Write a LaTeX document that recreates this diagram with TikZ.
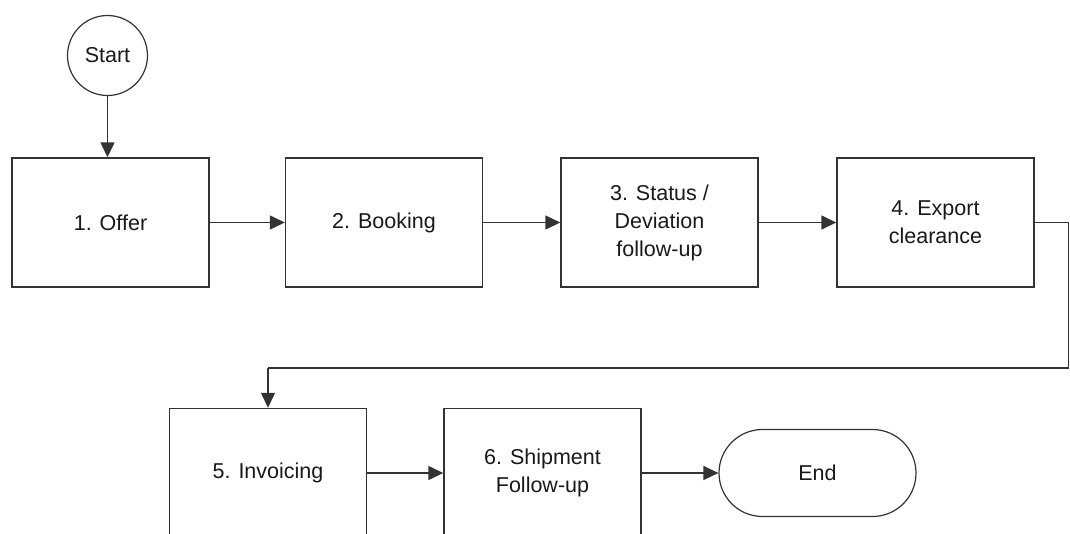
\documentclass[tikz,border=0pt]{standalone}
\usepackage{fontspec}
\setmainfont{Liberation Sans}
\usetikzlibrary{arrows.meta,shapes.misc}
\definecolor{linec}{HTML}{333333}
\begin{document}
\begin{tikzpicture}[x=1pt,y=-1pt,
  every node/.style={font=\fontsize{21.5}{28}\selectfont, text=black!90},
  procbox/.style={draw=linec, line width=1.4pt, minimum width=197pt, minimum height=129pt, align=center, inner sep=0pt},
  startc/.style={draw=linec, line width=1.2pt, circle, minimum size=80pt, inner sep=0pt},
  endbox/.style={draw=linec, line width=1.2pt, rounded rectangle, minimum width=197pt, minimum height=87pt, inner sep=0pt},
  conn/.style={draw=linec, line width=1.4pt, -{Triangle[length=15pt,width=14pt]}},
  plain/.style={draw=linec, line width=1.4pt}]
\useasboundingbox (0,0) rectangle (1070,533);
\begin{scope}
\clip (0,0) rectangle (1070,533);
\node[startc] (start) at (107.5,55.5) {Start};
\node[procbox] (b1) at (110.5,222.5) {1. Offer};
\node[procbox] (b2) at (384,222.5) {2. Booking};
\node[procbox] (b3) at (659.5,222.5) {3. Status /\\Deviation\\follow-up};
\node[procbox] (b4) at (935.5,222.5) {4. Export\\clearance};
\node[procbox] (b5) at (268,473) {5. Invoicing};
\node[procbox] (b6) at (542.5,473) {6. Shipment\\Follow-up};
\node[endbox] (end) at (817.5,473) {End};
\coordinate (c1) at (1068.5,222.5);
\coordinate (c2) at (1068.5,368);
\coordinate (c3) at (268,368);
\draw[conn] (start) -- (b1.north -| start);
\draw[conn] (b1) -- (b2);
\draw[conn] (b2) -- (b3);
\draw[conn] (b3) -- (b4);
\draw[plain] (b4.east) -- (c1) -- (c2) -- (c3);
\draw[conn] (c3) -- (b5.north);
\draw[conn] (b5) -- (b6);
\draw[conn] (b6.east) -- (end.west);
\end{scope}
\end{tikzpicture}
\end{document}
